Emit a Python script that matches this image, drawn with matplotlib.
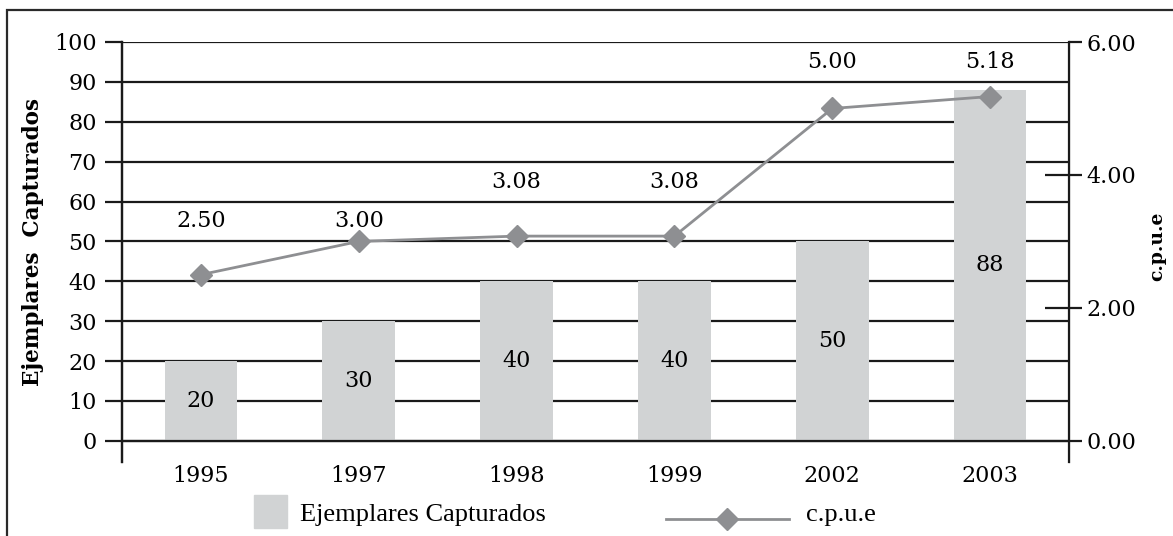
import numpy as np
import matplotlib.pyplot as plt
from matplotlib.patches import Rectangle
from matplotlib.lines import Line2D

years = ['1995', '1997', '1998', '1999', '2002', '2003']
ejemplares = [20, 30, 40, 40, 50, 88]
cpue = [2.50, 3.00, 3.08, 3.08, 5.00, 5.18]

bar_color = '#d1d3d4'
line_color = '#8e8f92'

plt.rcParams['font.family'] = 'DejaVu Serif'

fig = plt.figure(figsize=(11.73, 5.36), dpi=100)
ax = fig.add_axes([122 / 1173, 74 / 536, (1069 - 122) / 1173, 420 / 536])
ax2 = ax.twinx()

x = np.arange(len(years))
ylo = -5.3
ax.set_ylim(ylo, 100)
ax2.set_ylim(ylo * 6 / 100, 6)
ax.set_xlim(-0.5, len(years) - 0.5)

ax.set_axisbelow(True)
ax.bar(x, ejemplares, width=0.46, color=bar_color, zorder=2)
ax.axhline(0, color='#1a1a1a', lw=1.6, zorder=3)
ax.yaxis.grid(True, color='#1a1a1a', lw=1.6)
ax.set_yticks(np.arange(0, 101, 10))
ax.set_xticks(x)
ax.set_xticklabels(years)
ax.tick_params(axis='y', length=12, width=1.6, color='#1a1a1a', pad=6, labelsize=16)
ax.tick_params(axis='x', length=0, pad=2, labelsize=16)

for s in ['top', 'bottom']:
    ax.spines[s].set_visible(False)
    ax2.spines[s].set_visible(False)
for s in ['left', 'right']:
    ax2.spines[s].set_linewidth(1.6)
    ax2.spines[s].set_color('#1a1a1a')
ax.spines['left'].set_linewidth(1.6)
ax.spines['left'].set_color('#1a1a1a')

for xi, v in zip(x, ejemplares):
    ax.text(xi, v / 2, str(v), ha='center', va='center', fontsize=16, zorder=4)

ax2.plot(x, cpue, color=line_color, lw=2, marker='D', markersize=11.5,
         markerfacecolor=line_color, markeredgecolor=line_color, zorder=5)
# labels sit in the grid gap just above each point
for xi, v in zip(x, cpue):
    left_units = v * 100 / 6
    gap_mid = np.ceil(left_units / 10 - 1e-9) * 10 + 5
    ax.text(xi, gap_mid, f'{v:.2f}', ha='center', va='center', fontsize=16, zorder=6)

ax2.set_yticks([0, 2, 4, 6])
ax2.set_yticklabels(['0.00', '2.00', '4.00', '6.00'])
ax2.set_yticks([2, 4], minor=True)
ax2.yaxis.remove_overlapping_locs = False
ax2.tick_params(axis='y', which='major', direction='out', length=9.5, width=1.6,
                color='#1a1a1a', pad=3, labelsize=16)
ax2.tick_params(axis='y', which='minor', direction='in', length=17, width=1.6,
                color='#1a1a1a')

fig.text(33 / 1173, 1 - 242 / 536, 'Ejemplares  Capturados', rotation=90,
         ha='center', va='center', fontsize=15.5, fontweight='bold')
fig.text(1157 / 1173, 1 - 246 / 536, 'c.p.u.e', rotation=90,
         ha='center', va='center', fontsize=13.5, fontweight='bold')

# legend
W, H = 1173, 536
fig.patches.append(Rectangle((254 / W, 1 - 528 / H), 33 / W, 33 / H,
                             transform=fig.transFigure, color=bar_color))
fig.text(300 / W, 1 - 515 / H, 'Ejemplares Capturados', ha='left', va='center',
         fontsize=19, family='Liberation Serif')
fig.lines.append(Line2D([666 / W, 789 / W], [1 - 519 / H, 1 - 519 / H],
                        transform=fig.transFigure, color=line_color, lw=2))
fig.lines.append(Line2D([727 / W], [1 - 519 / H], transform=fig.transFigure,
                        marker='D', markersize=11.5, color=line_color))
fig.text(806 / W, 1 - 515 / H, 'c.p.u.e', ha='left', va='center',
         fontsize=19, family='Liberation Serif')

# outer frame
fig.patches.append(Rectangle((7 / W, -0.05), 1.1, 1 - 10 / H + 0.05,
                             transform=fig.transFigure, fill=False,
                             edgecolor='#2a2a2a', lw=1.6, clip_on=False))

fig.savefig('out.png', dpi=100)
